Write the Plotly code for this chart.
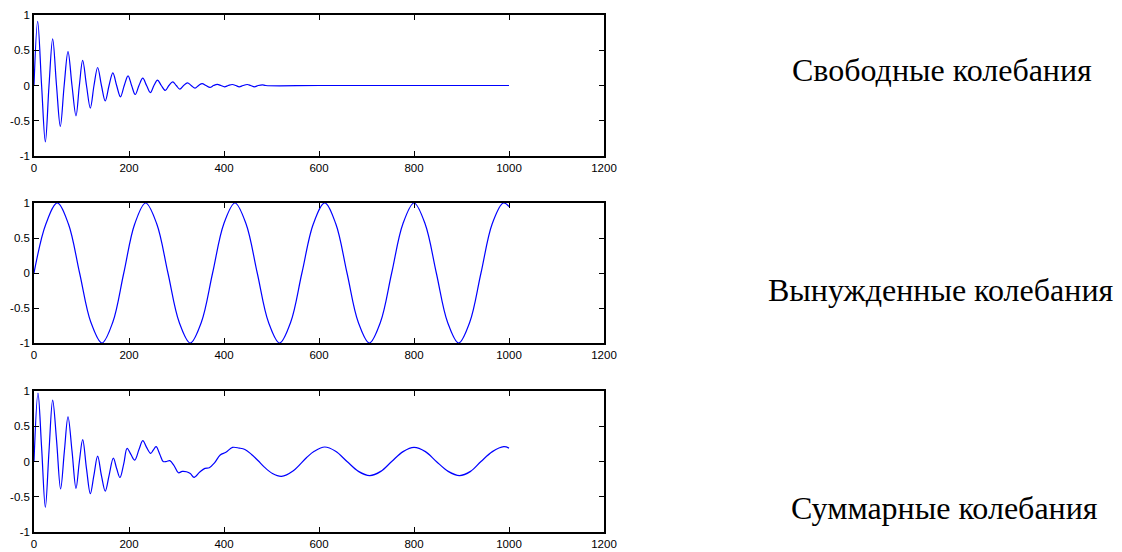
import plotly.graph_objects as go

# The page body adds an 8 px margin, so the figure is drawn 8 px smaller and
# every pixel position below is given in screenshot pixels minus that offset.
OFF = 8
W, H = 1122 - OFF, 552 - OFF

# ---- Data ----
free_x = [0, 7.7, 16, 23.9, 31.6, 39.3, 47.4, 55.4, 63.5, 71.6, 80, 88.4, 95.5, 102.5, 110.5,
          118.6, 126.3, 134, 142, 150, 158, 166, 174, 182, 190, 198, 205.5, 213, 221, 229,
          237, 245, 252.5, 260, 268, 276.5, 284, 292, 299.5, 307, 315, 323, 331, 339, 346.5,
          354, 362, 370.5, 378, 386, 393.5, 401, 409, 417.5, 425, 432, 440, 449, 456, 464,
          472, 481, 488, 600, 800, 1000]
free_y = [0, 0.91, 0, -0.80, 0, 0.66, 0, -0.58, 0, 0.48, 0, -0.43, 0, 0.355, 0,
          -0.32, 0, 0.255, 0, -0.22, 0, 0.18, 0, -0.16, 0, 0.137, 0, -0.128, 0, 0.104,
          0, -0.10, 0, 0.076, 0, -0.07, 0, 0.052, 0, -0.052, 0, 0.038, 0, -0.038, 0,
          0.028, 0, -0.028, 0, 0.016, 0, -0.019, 0, 0.014, 0, -0.019, 0, 0.014, 0, -0.019,
          0, 0.01, 0, 0, 0, 0]

forced_x = [0, 25, 49, 72.5, 96, 119.5, 143, 166, 189, 212, 235, 258.5, 282, 305.5, 329,
            352.5, 376, 399.5, 423, 446.5, 470, 493.5, 517, 540.5, 564, 588, 612, 635.5,
            659, 682.5, 706, 729.5, 753, 776.5, 800, 823.5, 847, 870.5, 894, 917.5, 941,
            964.5, 988, 1000]
forced_y = [0, 0.7, 1, 0.7, 0, -0.7, -1, -0.7, 0, 0.7, 1, 0.7, 0, -0.7, -1,
            -0.7, 0, 0.7, 1, 0.7, 0, -0.7, -1, -0.7, 0, 0.7, 1, 0.7,
            0, -0.7, -1, -0.7, 0, 0.7, 1, 0.7, 0, -0.7, -1, -0.7, 0,
            0.7, 1, 0.95]

sum_x = [0, 8.4, 16, 23.9, 31.6, 39.3, 47.5, 56, 64, 71.6, 80, 88.4, 95.5, 102.5, 110.5,
         118.6, 126, 134, 142, 150, 158, 167, 174, 181, 189, 196, 204, 212, 221, 229,
         237, 245.6, 251, 257, 265, 272, 279, 286, 295, 304, 312, 321, 329, 337, 349,
         360, 369, 380, 392, 404, 418, 432, 444, 458, 472, 485, 502, 521, 546, 574, 590, 612,
         635, 659, 683, 707, 730, 753, 777, 800, 824, 847, 872, 896, 919, 941, 965, 989, 1000]
sum_y = [0, 0.97, 0.2, -0.65, 0.15, 0.87, 0.3, -0.39, 0.15, 0.635, 0.15, -0.38, 0, 0.31, -0.1,
         -0.455, -0.2, 0.076, -0.2, -0.42, -0.2, 0.047, -0.1, -0.227, -0.03, 0.187, 0.1, 0.02, 0.17, 0.295,
         0.2, 0.116, 0.16, 0.21, 0.1, 0.0, 0.0, 0.012, -0.06, -0.16, -0.14, -0.145, -0.17, -0.225, -0.15,
         -0.097, -0.088, -0.02, 0.092, 0.13, 0.2, 0.19, 0.17, 0.1, 0.01, -0.08, -0.17, -0.21, -0.13, 0.057, 0.145, 0.206,
         0.145, 0.0, -0.14, -0.2, -0.14, 0.0, 0.14, 0.2, 0.14, 0.0, -0.14, -0.2, -0.14, 0.0, 0.14, 0.21, 0.19]

x_ticks = [0, 200, 400, 600, 800, 1000, 1200]
y_ticks = [-1, -0.5, 0, 0.5, 1]
y_tick_text = ["-1", "-0.5", "0", "0.5", "1"]
labels = ["Свободные колебания", "Вынужденные колебания", "Суммарные колебания"]

# ---- Layout geometry (screenshot pixels) ----
left, right = 34 - OFF, 604 - OFF
panels = [(15 - OFF, 156 - OFF), (203 - OFF, 343 - OFF), (391 - OFF, 532 - OFF)]
label_pos = [(942 - OFF, 70 - OFF), (941 - OFF, 290 - OFF), (944 - OFF, 508 - OFF)]

fig = go.Figure()
series = [(free_x, free_y), (forced_x, forced_y), (sum_x, sum_y)]
for i, (xs, ys) in enumerate(series):
    sfx = "" if i == 0 else str(i + 1)
    fig.add_trace(go.Scatter(x=xs, y=ys, mode="lines",
                             line=dict(color="#0000ff", width=1.2, shape="spline", smoothing=1.0),
                             xaxis="x" + sfx, yaxis="y" + sfx, showlegend=False,
                             hoverinfo="skip"))

axis_common = dict(showline=True, linecolor="black", linewidth=1.5, mirror="ticks",
                   ticks="inside", ticklen=5, tickwidth=1, tickcolor="black",
                   showgrid=False, zeroline=False, automargin=False,
                   tickfont=dict(family="Liberation Sans, Arial", size=11.5, color="black"))

layout = dict(width=W, height=H, margin=dict(l=0, r=0, t=0, b=0, pad=0), autosize=False,
              paper_bgcolor="white", plot_bgcolor="white", showlegend=False)

for i, (top, bot) in enumerate(panels):
    sfx = "" if i == 0 else str(i + 1)
    layout["xaxis" + sfx] = dict(axis_common, domain=[left / W, right / W], range=[0, 1200],
                                 tickvals=x_ticks, ticktext=[str(v) for v in x_ticks],
                                 anchor="y" + sfx)
    layout["yaxis" + sfx] = dict(axis_common, domain=[1 - bot / H, 1 - top / H], range=[-1, 1],
                                 tickvals=y_ticks, ticktext=y_tick_text,
                                 anchor="x" + sfx)

anns = []
for text, (cx, cy) in zip(labels, label_pos):
    anns.append(dict(text=text, x=cx / W, y=1 - cy / H, xref="paper", yref="paper",
                     xanchor="center", yanchor="middle", showarrow=False,
                     font=dict(family="Liberation Serif, Times New Roman", size=32, color="black")))
layout["annotations"] = anns

fig.update_layout(**layout)
fig.write_html("out.html")
